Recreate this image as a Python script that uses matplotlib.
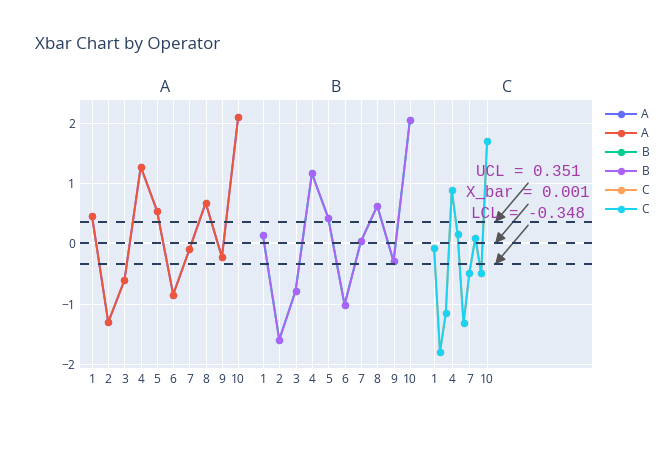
import matplotlib
matplotlib.use("Agg")
import matplotlib.pyplot as plt
from matplotlib.lines import Line2D

# ---- data ----
operators = ["A", "B", "C"]
samples = list(range(1, 11))
xbar_A = [0.45, -1.31, -0.61, 1.27, 0.54, -0.85, -0.10, 0.67, -0.23, 2.09]
xbar_B = [0.14, -1.60, -0.79, 1.16, 0.42, -1.02, 0.03, 0.62, -0.30, 2.04]
xbar_C = [-0.07, -1.81, -1.15, 0.88, 0.15, -1.33, -0.49, 0.09, -0.50, 1.70]
ucl = 0.351
center = 0.001
lcl = -0.348
ticks_A = list(range(1, 11))
ticks_B = list(range(1, 11))
ticks_C = [1, 4, 7, 10]
legend_labels = ["A", "A", "B", "B", "C", "C"]
legend_colors = ["#636EFA", "#EF553B", "#00CC96", "#AB63FA", "#FFA15A", "#19D3F3"]
hidden_colors = {"A": "#636EFA", "B": "#00CC96", "C": "#FFA15A"}
line_colors = {"A": "#EF553B", "B": "#AB63FA", "C": "#19D3F3"}

plt.rcParams['font.family'] = ['Open Sans', 'DejaVu Sans']
W, H = 672, 450
fig = plt.figure(figsize=(W / 100, H / 100), dpi=100)
fig.patch.set_facecolor("white")

TXT = "#2a3f5f"
BG = "#E5ECF6"
px = 72 / 100  # points per pixel

left, right, top, bottom = 80, 592, 100, 368
pw = (right - left) / 3
ylim = (-2.068, 2.376)
xlims = {"A": (0.26, 10.77), "B": (0.25, 10.70), "C": (-1.16, 27.8)}
data = {"A": xbar_A, "B": xbar_B, "C": xbar_C}
ticks = {"A": ticks_A, "B": ticks_B, "C": ticks_C}

axes = {}
for i, op in enumerate(operators):
    x0 = left + i * pw
    ax = fig.add_axes([x0 / W, 1 - bottom / H, pw / W, (bottom - top) / H])
    ax.set_facecolor(BG)
    for s in ax.spines.values():
        s.set_visible(False)
    ax.set_xlim(*xlims[op])
    ax.set_ylim(*ylim)
    ax.set_xticks(ticks[op])
    ax.set_xticklabels([str(t) for t in ticks[op]])
    ax.set_yticks([-2, -1, 0, 1, 2])
    if i > 0:
        ax.tick_params(axis="y", labelleft=False)
    ax.tick_params(length=0, labelsize=12 * px, colors=TXT, pad=5 * px)
    ax.grid(True, color="white", linewidth=1 * px)
    ax.axhline(0, color="white", linewidth=2 * px, zorder=1)
    ax.set_axisbelow(True)
    # hidden (overdrawn) trace and visible trace
    ax.plot(samples, data[op], color=hidden_colors[op], marker="o",
            linewidth=2 * px, markersize=6 * px, zorder=2)
    ax.plot(samples, data[op], color=line_colors[op], marker="o",
            linewidth=2 * px, markersize=6 * px, zorder=3)
    fig.text((x0 + pw / 2) / W, 1 - 88 / H, op, ha="center", va="center",
             fontsize=16 * px, color=TXT)
    axes[op] = ax

# overlay axis for control limit lines spanning all panels
ov = fig.add_axes([left / W, 1 - bottom / H, (right - left) / W, (bottom - top) / H])
ov.set_xlim(0, 1)
ov.set_ylim(*ylim)
ov.axis("off")
ov.patch.set_alpha(0)
for v in [ucl, center, lcl]:
    ov.plot([0, 1], [v, v], color="#2a3f5f", linewidth=2 * px,
            dashes=(4.5, 4.5), zorder=5)

# annotations in C panel
axc = axes["C"]
tip_x = 11.36
for lab, v in [("UCL = 0.351", ucl), ("X_bar = 0.001", center), ("LCL = -0.348", lcl)]:
    axc.annotate("", xy=(tip_x, v), xycoords="data", xytext=(33, 39),
                 textcoords="offset pixels", annotation_clip=False,
                 arrowprops=dict(arrowstyle="-|>,head_length=0.6,head_width=0.3",
                                 color="#555555", lw=1.5 * px, shrinkA=0, shrinkB=0),
                 zorder=6)
    axc.annotate(lab, xy=(tip_x, v), xycoords="data", xytext=(33, 51),
                 textcoords="offset pixels", ha="center", va="center",
                 annotation_clip=False, fontsize=11.3,
                 family=["Liberation Mono", "DejaVu Sans Mono"], color="#A03AA8",
                 zorder=7)
ov.set_zorder(4)

# title
fig.text(35 / W, 1 - 45 / H, "Xbar Chart by Operator", ha="left", va="center",
         fontsize=17 * px, color=TXT)

# legend
handles = [Line2D([0], [0], color=c, marker="o", linewidth=2 * px, markersize=6 * px)
           for c in legend_colors]
leg = fig.legend(handles, legend_labels, loc="upper left",
                 bbox_to_anchor=(606 / W, 1 - 108 / H), frameon=False,
                 prop={"size": 12 * px}, handlelength=2.5, handletextpad=0.45,
                 labelspacing=0.5, borderpad=0, borderaxespad=0)
for t in leg.get_texts():
    t.set_color(TXT)

fig.savefig("out.png", dpi=100)
